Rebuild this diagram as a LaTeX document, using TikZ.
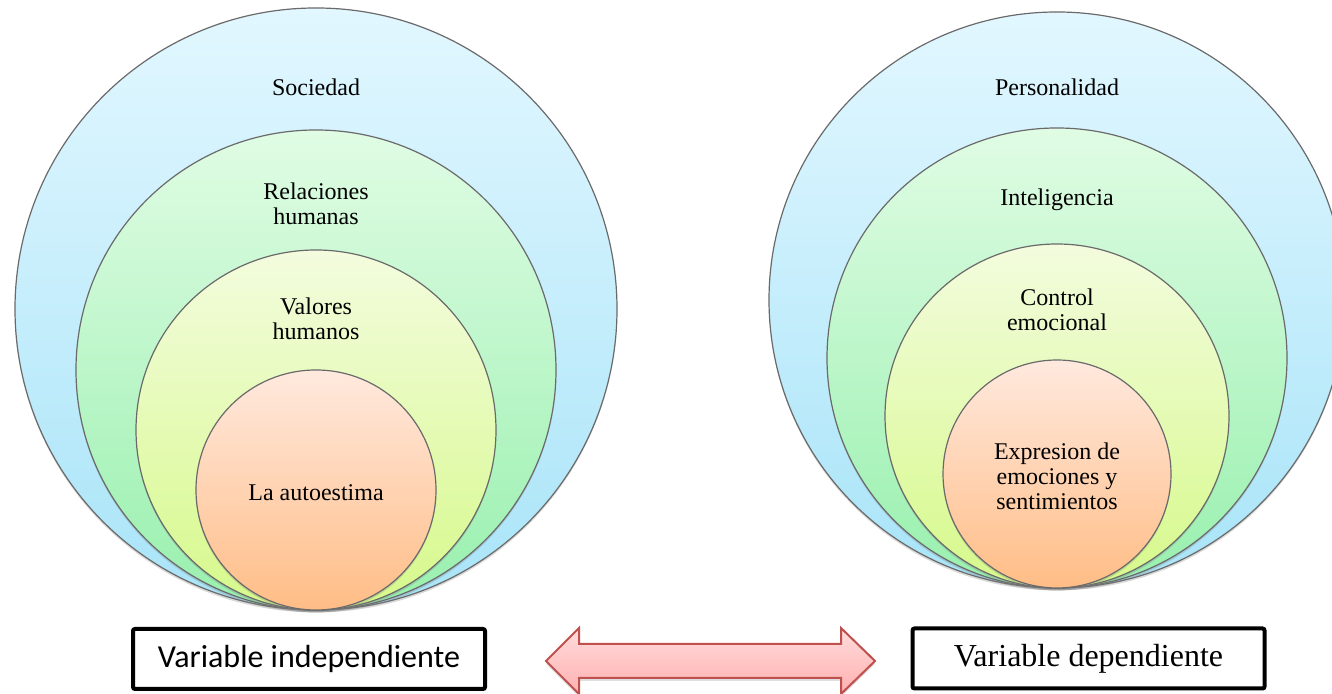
\documentclass[tikz,border=0pt]{standalone}
\usepackage{fontspec}
\setmainfont{Liberation Serif}
\newfontfamily\calibrifont{Carlito}
\usetikzlibrary{shadows}
\definecolor{blueT}{HTML}{E2F7FF}
\definecolor{blueB}{HTML}{A8E4F8}
\definecolor{greenT}{HTML}{E0FCE4}
\definecolor{greenB}{HTML}{98F0AE}
\definecolor{yelT}{HTML}{F3FCDE}
\definecolor{yelB}{HTML}{D6F98A}
\definecolor{oraT}{HTML}{FFE9DE}
\definecolor{oraB}{HTML}{FFBD86}
\definecolor{ringline}{HTML}{6A6A6A}
\definecolor{arrT}{HTML}{FFDCDC}
\definecolor{arrB}{HTML}{FFB0B0}
\definecolor{arrline}{HTML}{C0504D}
\tikzset{
  ring/.style={circle, inner sep=0pt, draw=ringline, line width=0.6pt,
    drop shadow={shadow xshift=0pt, shadow yshift=-1.2pt, opacity=0.3}},
  lbl/.style={align=center, inner sep=0pt, font=\fontsize{12}{12.5}\selectfont},
  varbox/.style={draw=black, line width=2pt, rounded corners=1pt, fill=white,
    minimum width=176pt, minimum height=30pt, inner sep=0pt},
  blockarrow/.style={draw=arrline, line width=1pt, top color=arrT, bottom color=arrB,
    drop shadow={shadow xshift=0pt, shadow yshift=-1.5pt, opacity=0.25}}
}
\begin{document}
\begin{tikzpicture}[x=0.5pt, y=0.5pt]
\useasboundingbox (0,0) rectangle (1332,694);
% left group
\node[ring, minimum size=301pt, top color=blueT, bottom color=blueB] (soc) at (316,385) {};
\node[ring, minimum size=240pt, top color=greenT, bottom color=greenB] (rel) at (316,324) {};
\node[ring, minimum size=180pt, top color=yelT, bottom color=yelB] (val) at (316,264) {};
\node[ring, minimum size=120pt, top color=oraT, bottom color=oraB] (aut) at (316,204) {};
\node[lbl] (tsoc) at (316,607) {Sociedad};
\node[lbl] (trel) at (316,490) {Relaciones\\humanas};
\node[lbl] (tval) at (316,375) {Valores\\humanos};
\node[lbl] (taut) at (316,201) {La autoestima};
% right group
\node[ring, minimum size=288pt, top color=blueT, bottom color=blueB] (per) at (1057,394) {};
\node[ring, minimum size=230pt, top color=greenT, bottom color=greenB] (int) at (1057,336) {};
\node[ring, minimum size=172pt, top color=yelT, bottom color=yelB] (con) at (1057,278) {};
\node[ring, minimum size=114pt, top color=oraT, bottom color=oraB] (exp) at (1057,220) {};
\node[lbl] (tper) at (1057,607) {Personalidad};
\node[lbl] (tint) at (1057,494) {Inteligencia};
\node[lbl] (tcon) at (1057,384) {Control\\emocional};
\node[lbl] (texp) at (1057,218) {Expresion de\\emociones y\\sentimientos};
% boxes
\node[varbox, font=\calibrifont\fontsize{16}{18}\selectfont] (vind) at (309,35) {Variable independiente};
\node[varbox, font=\fontsize{16}{18}\selectfont] (vdep) at (1088.5,35.5) {Variable dependiente};
% double block arrow
\path[blockarrow] (546,33) -- (579,66) -- (579,50) -- (841,50) -- (841,66) -- (875,33)
  -- (841,0) -- (841,16) -- (579,16) -- (579,0) -- cycle;
\end{tikzpicture}
\end{document}
